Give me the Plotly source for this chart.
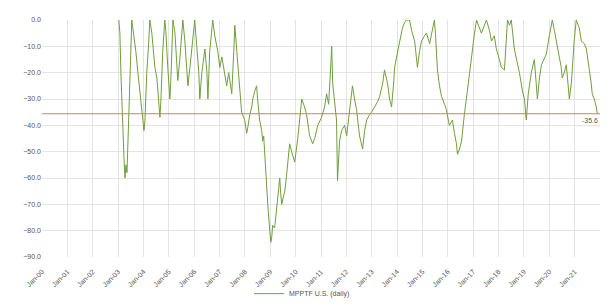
import plotly.graph_objects as go
import pandas as pd

# decimal-year positions of readings (date data)
years = [
    2003.03, 2003.07, 2003.11, 2003.15, 2003.19, 2003.23, 2003.27, 2003.31, 2003.35, 2003.39,
    2003.43, 2003.46, 2003.50, 2003.54, 2003.58, 2003.66, 2003.70, 2003.78, 2003.86, 2003.94,
    2004.02, 2004.06, 2004.13, 2004.21, 2004.25, 2004.33, 2004.37, 2004.45, 2004.53, 2004.57,
    2004.65, 2004.69, 2004.76, 2004.84, 2004.88, 2004.96, 2005.04, 2005.08, 2005.16, 2005.24,
    2005.28, 2005.35, 2005.43, 2005.51, 2005.55, 2005.63, 2005.67, 2005.75, 2005.83, 2005.91,
    2005.98, 2006.02, 2006.10, 2006.18, 2006.22, 2006.30, 2006.42, 2006.50, 2006.54, 2006.61,
    2006.73, 2006.81, 2006.93, 2007.01, 2007.09, 2007.20, 2007.28, 2007.36, 2007.48, 2007.56,
    2007.60, 2007.68, 2007.80, 2007.87, 2007.99, 2008.07, 2008.11, 2008.19, 2008.27, 2008.31,
    2008.39, 2008.46, 2008.50, 2008.58, 2008.66, 2008.70, 2008.74, 2008.78, 2008.86, 2008.90,
    2008.98, 2009.02, 2009.06, 2009.09, 2009.17, 2009.25, 2009.29, 2009.33, 2009.37, 2009.41,
    2009.45, 2009.49, 2009.57, 2009.65, 2009.69, 2009.76, 2009.84, 2009.96, 2010.08, 2010.16,
    2010.24, 2010.35, 2010.43, 2010.55, 2010.67, 2010.75, 2010.87, 2011.02, 2011.14, 2011.22,
    2011.30, 2011.38, 2011.42, 2011.46, 2011.54, 2011.61, 2011.65, 2011.69, 2011.73, 2011.81,
    2011.93, 2012.01, 2012.13, 2012.24, 2012.32, 2012.40, 2012.52, 2012.60, 2012.64, 2012.72,
    2012.80, 2012.91, 2012.99, 2013.11, 2013.23, 2013.31, 2013.43, 2013.50, 2013.58, 2013.62,
    2013.70, 2013.78, 2013.86, 2013.90, 2014.02, 2014.09, 2014.21, 2014.29, 2014.37, 2014.49,
    2014.57, 2014.69, 2014.80, 2014.88, 2014.96, 2015.08, 2015.16, 2015.28, 2015.39, 2015.47,
    2015.51, 2015.59, 2015.67, 2015.75, 2015.87, 2015.94, 2016.06, 2016.18, 2016.26, 2016.34,
    2016.38, 2016.46, 2016.54, 2016.57, 2016.65, 2016.73, 2016.85, 2016.97, 2017.05, 2017.13,
    2017.24, 2017.32, 2017.44, 2017.52, 2017.64, 2017.72, 2017.83, 2017.91, 2018.03, 2018.11,
    2018.23, 2018.31, 2018.35, 2018.43, 2018.50, 2018.62, 2018.74, 2018.82, 2018.94, 2019.02,
    2019.09, 2019.17, 2019.29, 2019.41, 2019.53, 2019.61, 2019.69, 2019.80, 2019.88, 2020.00,
    2020.12, 2020.20, 2020.28, 2020.39, 2020.47, 2020.51, 2020.59, 2020.67, 2020.75, 2020.79,
    2020.87, 2020.91, 2020.98, 2021.06, 2021.18, 2021.26, 2021.38, 2021.46, 2021.57, 2021.65,
    2021.69, 2021.77, 2021.85, 2021.89,
]

drawdown = [
    0, -5, -20, -34, -45, -52, -60, -55, -58, -45,
    -40, -30, -15, 0, -3, -8, -12, -20, -28, -35,
    -42, -38, -20, -8, 0, -5, -10, -18, -22, -28,
    -37, -30, -12, 0, -4, -18, -30, -22, 0, -5,
    -12, -23, -15, -5, 0, -8, -15, -25, -18, -10,
    -2, 0, -10, -20, -30, -20, -11, -20, -30, -12,
    0, -6, -12, -18, -14, -20, -25, -20, -28, -12,
    -2, -12, -29, -35, -38, -43, -41, -36, -33, -30,
    -27, -25, -30, -38, -42, -46, -44, -51, -60, -70,
    -80, -84.4, -82, -78, -79, -72, -67, -63, -60, -66,
    -70, -68, -65, -58, -54, -47, -50, -54, -45, -36,
    -30, -33, -36, -44, -47, -45, -40, -37, -33, -28,
    -32, -18, -10, -24, -33, -38, -61, -50, -46, -42,
    -40, -44, -34, -25, -30, -34, -44, -47, -49, -42,
    -38, -36, -35, -33, -31, -29, -24, -19, -22, -24,
    -30, -33, -24, -18, -12, -9, -3, -1, 0, 0,
    -4, -8, -18, -12, -8, -6, -5, -9, -4, 0,
    -5, -19, -25, -29, -32, -34, -40, -38, -43, -47,
    -51, -49, -46, -43, -36, -30, -20, -11, -5, 0,
    -3, -5, -2, 0, -4, -8, -6, -11, -15, -18,
    -19, -8, 0, -2, 0, -11, -16, -20, -27, -30,
    -38, -28, -20, -15, -30, -22, -17, -15, -13, -6,
    0, -4, -8, -14, -18, -22, -20, -17, -25, -30,
    -24, -17, -8, 0, -3, -8, -9, -11, -18, -24,
    -28, -30, -33, -35.6,
]

current_level = -35.6
series_name = "MPPTF U.S. (daily)"
y_ticks = [0, -10, -20, -30, -40, -50, -60, -70, -80, -90]


def to_date(y):
    yr = int(y)
    return pd.Timestamp(yr, 1, 1) + pd.Timedelta(days=(y - yr) * 365.25)


dates = [to_date(y) for y in years]

fig = go.Figure()
fig.add_trace(go.Scatter(
    x=dates, y=drawdown, mode="lines", name=series_name,
    line=dict(color="#6f9f3c", width=1),
))

fig.add_hline(y=current_level, line=dict(color="#d27a72", width=1))
fig.add_annotation(
    x=1, xref="paper", y=current_level, yref="y", xanchor="right", yanchor="top",
    text=f"{current_level:.1f}", showarrow=False, xshift=0, yshift=-1,
    font=dict(size=7, color="#555"),
)

# page body adds an 8px margin, so the figure is sized to fit the 608x304 window
fig.update_layout(
    width=600, height=296,
    margin=dict(l=34, r=8, t=12, b=47, autoexpand=False),
    paper_bgcolor="white", plot_bgcolor="white",
    font=dict(family="Liberation Sans, Arial", size=7, color="#555"),
    showlegend=True,
    legend=dict(orientation="h", xref="container", x=0.49, xanchor="center",
                yref="container", y=0.035, yanchor="middle",
                bgcolor="rgba(0,0,0,0)",
                font=dict(size=7, color="#555")),
    xaxis=dict(
        type="date", range=["2000-01-01", "2021-12-31"],
        tick0="2000-01-01", dtick="M12", tickformat="%b-%y",
        tickangle=-45, showgrid=True, gridcolor="#e4e4e4", gridwidth=1,
        showline=False, zeroline=False, ticks="outside", ticklen=7,
        tickcolor="rgba(0,0,0,0)", tickfont=dict(size=7), automargin=False,
    ),
    yaxis=dict(
        range=[-90, 0], tickvals=y_ticks, tickformat=".1f",
        showgrid=True, gridcolor="#e4e4e4", gridwidth=1, zeroline=False,
        showline=False, ticks="", tickfont=dict(size=7), automargin=False,
    ),
)

fig.write_html("out.html")
